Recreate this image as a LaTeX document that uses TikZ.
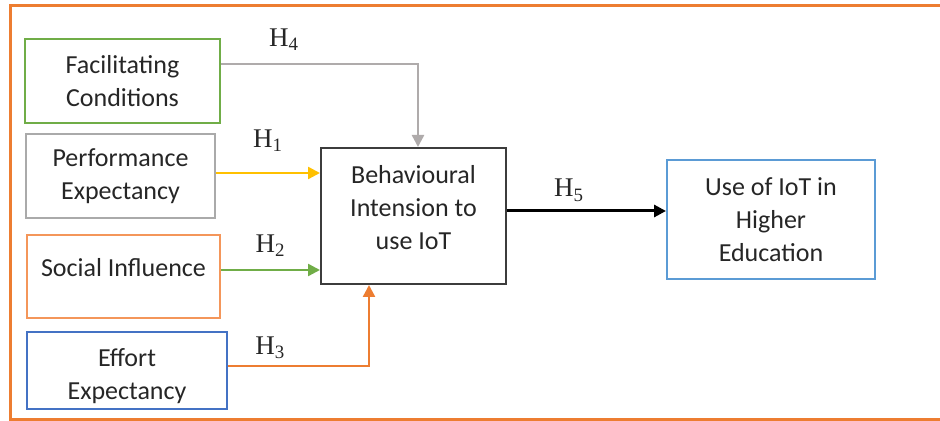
\documentclass[tikz,border=0pt]{standalone}
\usepackage{fontspec}
\setmainfont{Carlito}
\newfontfamily\hypfont{Liberation Serif}
\usetikzlibrary{arrows.meta}
\definecolor{frameorange}{RGB}{237,125,49}
\definecolor{fcgreen}{RGB}{112,173,71}
\definecolor{pegray}{RGB}{170,170,170}
\definecolor{siorange}{RGB}{244,150,90}
\definecolor{eeblue}{RGB}{68,114,196}
\definecolor{bidark}{RGB}{60,60,60}
\definecolor{useblue}{RGB}{91,155,213}
\definecolor{hfourgray}{RGB}{175,171,171}
\definecolor{honeyellow}{RGB}{255,192,0}
\begin{document}
\begin{tikzpicture}
[x=0.5pt,y=-0.5pt,
 boxdecorate/.style={shape=rectangle,draw,line width=1pt,align=center,
   text=black!85,font=\fontsize{13}{16.5}\selectfont,inner sep=2pt},
 linedecorate/.style={-{Triangle[length=6pt,width=6pt]},line width=1.2pt},
 hypdecorate/.style={font=\hypfont\fontsize{13.5}{16}\selectfont,
   inner sep=0pt,text=black!85}]
\useasboundingbox (0,0) rectangle (940,421);
%% outer frame
\draw[frameorange,line width=1.5pt] (940,6) -- (10,6) -- (10,419) -- (940,419);
%% nodes or boxes
\foreach \nodename/\x/\y/\w/\h/\colour/\txt in {
  fc/122.5/81/97.5/42/fcgreen/{Facilitating\\Conditions},
  pe/120.5/176/94.5/42/pegray/{Performance\\Expectancy},
  si/123.5/276.5/96.5/41.5/siorange/{Social Influence\\[-7pt]\mbox{}},
  ee/127/370.5/100/38.5/eeblue/{\strut\\[-13.5pt]Effort\\Expectancy},
  bi/413.5/216/92.5/68/bidark/{Behavioural\\Intension to\\use IoT\\[-7.5pt]\mbox{}},
  use/771/219.5/104/59.5/useblue/{Use of IoT in\\Higher\\Education}} {
  \node (\nodename) at (\x,\y) [boxdecorate,draw=\colour,
    minimum width=\w pt,minimum height=\h pt] {\txt};
}
%% start points of the arrows
\coordinate (pestart) at ([yshift=1.5pt]pe.east);
\coordinate (sistart) at ([yshift=3.25pt]si.east);
\coordinate (bistart) at ([yshift=2.5pt]bi.east);
%% edges or lines
\draw[linedecorate,hfourgray] ([yshift=8.5pt]fc.east) -|
  node[hypdecorate,above=6pt,pos=0.16] {H\textsubscript{4}} ([xshift=2.25pt]bi.north);
\draw[linedecorate,honeyellow] (pestart) --
  node[hypdecorate,above=10pt] {H\textsubscript{1}} (pestart -| bi.west);
\draw[linedecorate,fcgreen] (sistart) --
  node[hypdecorate,above=6pt] {H\textsubscript{2}} (sistart -| bi.west);
\draw[linedecorate,frameorange] ([yshift=2.25pt]ee.east) -|
  node[hypdecorate,above=3pt,pos=0.15] {H\textsubscript{3}} ([xshift=-22.25pt]bi.south);
\draw[linedecorate,black,line width=1.5pt] (bistart) --
  node[hypdecorate,above=4pt,pos=0.39] {H\textsubscript{5}} (bistart -| use.west);
\end{tikzpicture}
\end{document}
